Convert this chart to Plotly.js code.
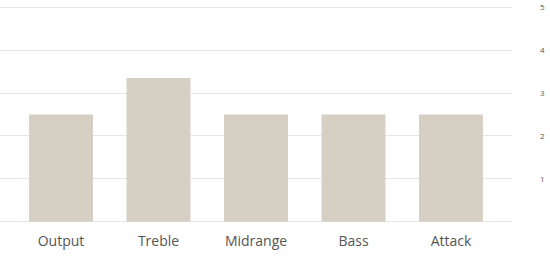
<!DOCTYPE html>
<html><head><meta charset="utf-8">
<script src="https://cdn.plot.ly/plotly-3.0.1.min.js"></script>
<style>html,body{margin:0;padding:0;background:#fff;}#chart{width:550px;height:257px;}</style>
</head><body><div id="chart"></div>
<script>
var categories = ["Output", "Treble", "Midrange", "Bass", "Attack"];
var values = [2.5, 3.35, 2.5, 2.5, 2.5];
var tickValues = [0, 1, 2, 3, 4, 5];
var tickLabels = ["", "1", "2", "3", "4", "5"];

Plotly.newPlot("chart", [{
  type: "bar",
  x: categories,
  y: values,
  marker: {color: "#d6cfc3"},
  hoverinfo: "none"
}], {
  width: 550, height: 257,
  margin: {l: 0, r: 38, t: 3, b: 31},
  paper_bgcolor: "#fff", plot_bgcolor: "#fff",
  bargap: 0.344,
  showlegend: false,
  xaxis: {
    range: [-0.626, 4.626],
    showgrid: false, zeroline: false, showline: false,
    tickfont: {family: "Open Sans", size: 14, color: "#555"},
    ticks: "", ticklabelstandoff: 5
  },
  yaxis: {
    side: "right",
    range: [-0.1, 5.1],
    tickvals: tickValues, ticktext: tickLabels,
    showgrid: true, gridcolor: "#e6e6e6", gridwidth: 1,
    zeroline: true, zerolinecolor: "#e6e6e6", zerolinewidth: 1,
    showline: false,
    tickfont: {family: "Open Sans", size: 8, color: "#555"},
    ticks: "", ticklabelstandoff: 27
  }
}, {staticPlot: true, displayModeBar: false});
</script></body></html>
